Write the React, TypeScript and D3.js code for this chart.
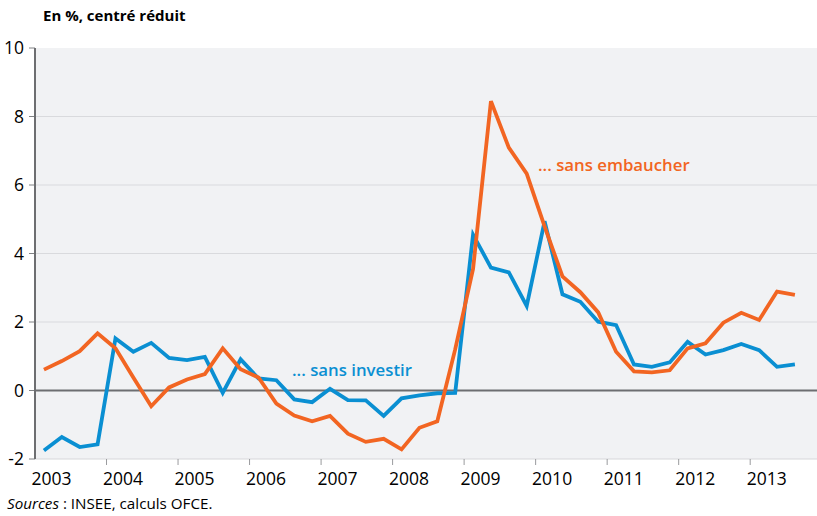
import React from "react";
import * as d3 from "d3";

const investir = [
  -1.75, -1.36, -1.65, -1.57, 1.52, 1.13, 1.39, 0.95, 0.89, 0.98, -0.07, 0.91, 0.35, 0.3,
  -0.26, -0.34, 0.05, -0.28, -0.29, -0.74, -0.23, -0.14, -0.08, -0.07, 4.55, 3.59, 3.45,
  2.47, 4.94, 2.81, 2.59, 2.01, 1.91, 0.76, 0.69, 0.82, 1.42, 1.05, 1.18, 1.36, 1.18, 0.69, 0.76,
];
const embaucher = [
  0.61, 0.86, 1.15, 1.67, 1.23, 0.38, -0.46, 0.09, 0.32, 0.48, 1.23, 0.62, 0.38, -0.38,
  -0.73, -0.9, -0.74, -1.26, -1.5, -1.41, -1.72, -1.09, -0.9, 1.2, 3.55, 8.45, 7.09,
  6.33, 4.79, 3.33, 2.87, 2.28, 1.13, 0.56, 0.53, 0.59, 1.23, 1.38, 1.98, 2.27, 2.06, 2.89, 2.79,
];
const startYear = 2003;
const years = [2003, 2004, 2005, 2006, 2007, 2008, 2009, 2010, 2011, 2012, 2013];
const yTicks = [-2, 0, 2, 4, 6, 8, 10];

const W = 817;
const H = 516;
const left = 35;
const top = 48;
const bottom = 459;
const font = "'Open Sans', 'Noto Sans', sans-serif";
const BLUE = "#0a8fd2";
const ORANGE = "#f26522";

export default function App() {
  const x = d3.scaleLinear().domain([2003, 2014]).range([left, left + 11 * 71.52]);
  const y = d3.scaleLinear().domain([-2, 10]).range([bottom, top]);
  const t = (i: number) => startYear + 0.125 + i * 0.25;
  const line = d3
    .line<number>()
    .x((_, i) => x(t(i)))
    .y((d) => y(d));

  return (
    <svg width={W} height={H} style={{ position: "absolute", left: 0, top: 0 }}>
      <rect x={left} y={top} width={W - left} height={bottom - top} fill="#f1f2f4" />
      {yTicks
        .filter((v) => v !== 0 && v !== -2 && v !== 10)
        .map((v) => (
          <line key={v} x1={left} x2={W} y1={y(v)} y2={y(v)} stroke="#d9dadd" strokeWidth={1.2} />
        ))}
      <line x1={left} x2={W} y1={bottom} y2={bottom} stroke="#d6d7da" strokeWidth={1} />
      <line x1={left} x2={W} y1={y(0)} y2={y(0)} stroke="#6d6e71" strokeWidth={1.8} />
      {yTicks.map((v) => (
        <g key={v}>
          <line x1={left - 6} x2={left} y1={y(v)} y2={y(v)} stroke="#808285" strokeWidth={1} />
          <text
            x={left - 11}
            y={y(v)}
            dy="0.35em"
            textAnchor="end"
            fontFamily={font}
            fontSize={17.5}
            fill="#000"
          >
            {v}
          </text>
        </g>
      ))}
      <line x1={left} x2={left} y1={top} y2={bottom} stroke="#6d6e71" strokeWidth={2} />
      {years.map((yr) => (
        <g key={yr}>
          {yr > 2003 && (
            <line x1={x(yr)} x2={x(yr)} y1={bottom} y2={bottom + 6} stroke="#9a9b9e" strokeWidth={1} />
          )}
          <text x={x(yr) + 16.5} y={485} textAnchor="middle" fontFamily={font} fontSize={17.5} fill="#000">
            {yr}
          </text>
        </g>
      ))}
      <path d={line(investir) || ""} fill="none" stroke={BLUE} strokeWidth={3.8} strokeLinejoin="miter" />
      <path d={line(embaucher) || ""} fill="none" stroke={ORANGE} strokeWidth={3.8} strokeLinejoin="miter" />
      <text x={292} y={376} fontFamily={font} fontSize={16.8} fontWeight={600} fill={BLUE}>
        ... sans investir
      </text>
      <text x={538} y={171} fontFamily={font} fontSize={16.8} fontWeight={600} fill={ORANGE}>
        ... sans embaucher
      </text>
      <text x={43} y={21} fontFamily={font} fontSize={15} fontWeight={700} fill="#000">
        En %, centré réduit
      </text>
      <text x={7} y={509} fontFamily={font} fontSize={15.2} fill="#000">
        <tspan fontStyle="italic">Sources</tspan> : INSEE, calculs OFCE.
      </text>
    </svg>
  );
}
